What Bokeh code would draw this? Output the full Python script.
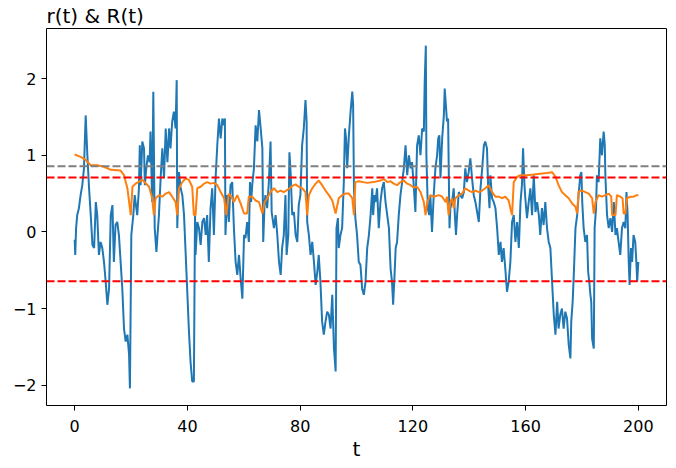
from bokeh.plotting import figure
from bokeh.models import Range1d, FixedTicker, Span
from bokeh.embed import file_html
from bokeh.resources import INLINE

# r(t): (t, value) pairs, segment by segment
r_seg1 = [(0.0, -0.10), (0.2, -0.30), (0.5, 0.05), (0.9, 0.22), (1.5, 0.31), (2.1, 0.48),
          (2.7, 0.61), (3.3, 0.83), (3.9, 1.52), (4.5, 1.00), (5.1, 0.57), (5.7, 0.22),
          (6.3, -0.17), (6.9, -0.21), (7.5, 0.39), (8.0, 0.22), (8.6, -0.30), (9.2, -0.13),
          (9.8, -0.21), (10.4, -0.39), (11.0, -0.65), (11.6, -0.95), (12.2, -0.74), (12.8, 0.22),
          (13.4, 0.35), (13.9, -0.39), (14.5, 0.09), (15.1, 0.13), (15.7, -0.04), (16.3, -0.39),
          (16.9, -0.74), (17.5, -1.26), (18.1, -1.43), (18.7, -1.34), (19.3, -1.60), (19.6, -2.04),
          (20.1, -0.04), (20.8, 0.22), (21.3, 0.48)]
r_seg2 = [(21.6, 0.39), (22.2, 0.22), (22.8, 0.57), (23.1, 1.13), (23.4, 0.61), (24.0, 1.18),
          (24.6, 1.09), (24.9, 0.61), (25.4, 0.83), (26.0, 1.00), (26.6, 0.91), (26.9, 1.31),
          (27.5, 0.39), (27.9, 1.83), (28.4, 0.05), (29.0, -0.26), (29.4, -0.04), (29.9, 0.22),
          (30.5, 0.70), (31.1, 1.09), (31.7, 0.70), (32.3, 1.35), (32.9, 0.91), (33.5, 1.35),
          (34.0, 1.09), (34.6, 1.44), (35.2, 1.57), (35.8, 1.35), (36.2, 1.98), (36.4, 0.05),
          (37.0, 0.78), (37.6, 0.57), (38.2, 0.48), (38.8, 0.22), (39.4, -0.30), (40.0, -0.82),
          (40.5, -1.26), (41.1, -1.69), (41.7, -1.95), (42.3, -1.95), (42.7, 0.22), (42.9, -0.30),
          (43.5, 0.13), (44.1, 0.05), (44.7, -0.17), (45.3, 0.13), (45.9, 0.18), (46.5, -0.04),
          (47.0, 0.22), (47.6, -0.39)]
r_seg3 = [(48.2, 0.30), (48.8, 0.57), (49.4, -0.04), (50.0, 0.70), (50.6, 1.13), (51.2, 1.48),
          (51.8, 1.22), (52.4, 1.48), (53.0, 1.39), (53.3, 1.48), (53.5, -0.04), (54.1, 0.48),
          (54.7, 0.13), (55.3, 0.61), (55.9, 0.65), (56.5, 0.05), (57.1, -0.39), (57.7, -0.56),
          (58.3, -0.30), (58.9, -0.61), (59.5, -0.87), (60.1, -0.04), (60.6, -0.08), (61.2, 0.13),
          (61.8, -0.13), (62.2, 0.65), (62.6, 0.39), (63.0, 0.61), (63.6, 0.83), (64.2, 1.39),
          (64.8, 1.18), (65.4, 1.59), (66.0, 1.35), (66.6, 1.09), (66.9, -0.13), (67.4, 0.39),
          (67.7, 0.48), (68.3, 0.31), (68.9, 0.65), (69.5, 1.18), (69.9, 0.26), (70.7, 0.05),
          (71.3, 0.22), (71.9, -0.04), (72.5, -0.39), (73.1, -0.56), (73.6, -0.21), (74.2, -0.04)]
r_seg4 = [(74.8, 0.48), (75.2, -0.30), (75.8, -0.04), (76.2, 1.04), (76.6, 0.78), (77.2, 0.22),
          (77.8, 0.26), (78.4, -0.04), (79.0, -0.13), (79.5, 0.35), (80.1, 0.48), (80.7, 1.13),
          (81.3, 1.35), (81.9, 1.72), (82.3, 1.44), (82.5, 0.13), (83.1, -0.04), (83.7, -0.30),
          (84.3, -0.13), (84.9, -0.39), (85.5, -0.69), (86.1, -0.52), (86.6, -0.30), (87.2, -0.65),
          (87.8, -1.17), (88.4, -1.34), (89.0, -1.17), (89.6, -1.04), (90.2, -1.08), (90.8, -1.26),
          (91.4, -0.82), (92.0, -1.52), (92.6, -1.82), (92.9, 0.05), (93.4, 0.18), (93.7, -0.21),
          (94.3, -0.04), (94.9, 0.05), (95.5, 0.65), (95.9, 1.35), (96.3, 1.22), (96.7, 0.83),
          (97.3, 1.26), (97.9, 1.57), (98.5, 1.83), (98.8, 1.66), (99.1, 0.57), (99.6, 0.18),
          (100.2, -0.04), (100.8, -0.39)]
r_seg5 = [(101.4, -0.43), (102.0, -0.74), (102.6, -0.82), (103.2, -0.65), (103.8, -0.21),
          (104.4, -0.04), (105.0, 0.22), (105.6, 0.57), (105.9, 0.22), (106.4, 0.48), (106.7, 0.39),
          (107.3, 0.57), (107.9, 0.05), (108.5, 0.39), (109.1, 0.57), (109.7, 0.65), (110.3, 0.39),
          (110.9, 0.22), (111.5, 0.05), (112.1, -0.48), (112.6, -0.65), (113.0, -0.95), (113.5, -0.56),
          (113.9, -0.21), (114.4, -0.13), (115.0, 0.22), (115.6, 0.48), (116.2, 0.65), (116.8, 0.83),
          (117.4, 1.13), (118.0, 0.74), (118.6, 1.00), (119.2, 0.83), (119.7, 0.91), (120.3, 0.61),
          (120.9, 0.26), (121.5, 1.13), (122.1, 1.26), (122.7, 1.00), (123.3, 1.35), (123.9, 1.31),
          (124.2, 1.96), (124.6, 2.43), (124.8, 1.00), (125.3, 0.31), (125.8, 0.22), (126.2, 0.48),
          (126.8, 0.00), (127.4, 0.48)]
r_seg6 = [(128.0, 0.83), (128.6, 1.00), (129.0, 1.22), (129.4, 1.26), (129.8, 0.70), (130.4, 1.22),
          (131.0, 1.52), (131.3, 1.87), (131.8, 1.61), (132.1, 1.44), (132.5, 1.48), (133.0, 0.05),
          (133.3, 0.31), (133.9, 0.39), (134.5, 0.57), (134.9, 0.22), (135.3, -0.04), (135.7, 0.22),
          (136.3, 0.52), (136.9, 0.48), (137.5, 0.44), (138.1, 0.52), (138.6, 0.83), (139.2, 0.65),
          (139.8, 0.78), (140.4, 0.96), (141.0, 0.70), (141.6, 0.48), (142.2, 0.39), (142.8, 0.26),
          (143.4, 0.13), (144.0, 0.57), (144.6, 0.83), (145.2, 1.13), (145.7, 1.18), (146.3, 1.09),
          (146.7, 0.61), (147.2, 0.31), (147.5, 0.74), (148.1, 0.44), (148.7, 0.39), (149.3, 0.31),
          (149.9, 0.05), (150.5, -0.30), (151.1, -0.13), (151.6, -0.39), (152.2, -0.21), (152.8, -0.48),
          (153.4, -0.78), (154.0, -0.65)]
r_seg7 = [(154.6, -0.39), (155.2, 0.13), (155.8, 0.22), (156.4, -0.13), (157.0, 0.13), (157.6, -0.21),
          (158.2, 0.39), (158.7, 0.61), (159.1, 1.09), (159.6, 0.61), (159.9, 0.44), (160.5, 0.18),
          (161.1, 0.39), (161.7, 0.57), (162.3, 0.22), (162.9, 0.74), (163.5, 0.26), (164.1, 0.39),
          (164.7, 0.22), (165.2, -0.04), (165.8, 0.31), (166.4, 0.09), (167.0, 0.39), (167.6, 0.05),
          (168.2, -0.13), (168.8, -0.21), (169.4, -0.65), (170.0, -1.08), (170.6, -1.34), (171.2, -0.91),
          (171.7, -1.26), (172.3, -1.08), (172.9, -1.00), (173.5, -1.26), (174.1, -1.04), (174.7, -1.13),
          (175.3, -1.47), (175.9, -1.65), (176.2, -1.17), (176.7, -0.91), (177.1, -0.56), (177.7, 0.05),
          (178.3, 0.22), (178.8, 0.48), (179.4, 0.74), (179.8, 0.78), (180.1, 0.39), (180.6, 0.05)]
r_seg8 = [(181.2, -0.13), (181.8, -0.04), (182.2, -0.52), (182.6, -0.65), (183.0, -0.82), (183.3, -0.91),
          (183.6, -1.39), (184.2, -1.52), (184.5, 0.05), (185.0, 0.31), (185.3, 0.74), (185.9, 0.65),
          (186.5, 1.22), (187.1, 1.00), (187.7, 1.31), (188.1, 1.13), (188.3, 0.74), (188.9, 0.22),
          (189.5, 0.05), (190.1, 0.18), (190.7, 0.00), (191.3, 0.39), (191.9, -0.04), (192.4, 0.05),
          (193.0, -0.13), (193.6, -0.30), (194.2, 0.05), (194.8, 0.13), (195.4, 0.05), (195.8, 0.52),
          (196.2, 0.22), (196.6, -0.39), (196.9, -0.69), (197.4, -0.21), (197.8, -0.39), (198.3, -0.04),
          (198.9, -0.13), (199.3, -0.39), (199.6, -0.65), (200.0, -0.39)]

# R(t): (t, value) pairs
R_seg1 = [(0.0, 1.01), (2.1, 0.98), (3.9, 0.94), (5.7, 0.87), (8.0, 0.87), (10.4, 0.85), (12.8, 0.81),
          (16.3, 0.80), (17.5, 0.74), (18.7, 0.57), (19.9, 0.22), (20.5, 0.59), (21.6, 0.63),
          (24.0, 0.68), (26.4, 0.59), (27.5, 0.44), (28.1, 0.22), (28.7, 0.44), (29.9, 0.48),
          (31.1, 0.46), (32.3, 0.50), (33.5, 0.52), (34.6, 0.46), (35.8, 0.39), (36.4, 0.22),
          (37.0, 0.57), (38.2, 0.65), (39.4, 0.70), (40.5, 0.68), (41.7, 0.59), (42.3, 0.22),
          (42.9, 0.22), (43.5, 0.57), (44.7, 0.59), (45.9, 0.63), (47.0, 0.65)]
R_seg2 = [(48.2, 0.63), (49.4, 0.64), (50.6, 0.61), (51.8, 0.52), (53.0, 0.44), (53.8, 0.22),
          (54.7, 0.50), (55.6, 0.46), (56.5, 0.39), (57.7, 0.48), (58.9, 0.37), (60.1, 0.24),
          (61.2, 0.24), (61.8, 0.46), (63.0, 0.46), (64.2, 0.41), (65.4, 0.39), (66.6, 0.24),
          (67.4, 0.39), (68.3, 0.44), (69.5, 0.52), (70.7, 0.57), (71.9, 0.52), (73.1, 0.54),
          (74.2, 0.52), (76.0, 0.56), (77.2, 0.60), (78.4, 0.62), (79.5, 0.59), (80.7, 0.57),
          (81.9, 0.52), (82.5, 0.22), (83.1, 0.48), (84.3, 0.57), (85.5, 0.63), (86.6, 0.67),
          (87.8, 0.61), (89.0, 0.54), (90.2, 0.48), (91.4, 0.41), (92.6, 0.24), (93.7, 0.44),
          (94.9, 0.48), (96.1, 0.50), (97.3, 0.50), (98.5, 0.44), (99.1, 0.22), (99.6, 0.65)]
R_seg3 = [(100.8, 0.66), (103.8, 0.64), (106.1, 0.65), (108.5, 0.67), (109.7, 0.69), (110.9, 0.65),
          (112.1, 0.66), (113.2, 0.63), (114.4, 0.61), (115.6, 0.65), (116.8, 0.67), (118.0, 0.63),
          (119.2, 0.61), (120.3, 0.58), (121.5, 0.59), (122.7, 0.52), (123.9, 0.39), (124.5, 0.22),
          (125.1, 0.39), (126.2, 0.48), (127.4, 0.46), (129.2, 0.48), (130.4, 0.46), (131.6, 0.39),
          (132.1, 0.46), (132.7, 0.22), (133.3, 0.39), (133.9, 0.44), (134.5, 0.31), (135.1, 0.44),
          (136.3, 0.48), (137.5, 0.50), (138.6, 0.57), (139.8, 0.54), (141.0, 0.52), (142.2, 0.54),
          (143.4, 0.52), (144.6, 0.54), (145.7, 0.57), (146.9, 0.61), (148.1, 0.52), (149.3, 0.46),
          (150.5, 0.46), (151.6, 0.44), (152.8, 0.46), (154.0, 0.41)]
R_seg4 = [(154.6, 0.31), (155.2, 0.22), (155.8, 0.65), (157.0, 0.72), (158.2, 0.74), (160.5, 0.74),
          (162.9, 0.75), (165.2, 0.76), (167.6, 0.77), (169.4, 0.78), (170.6, 0.72), (171.7, 0.61),
          (172.9, 0.52), (174.1, 0.48), (175.3, 0.44), (176.5, 0.37), (177.7, 0.33), (178.3, 0.24),
          (178.8, 0.52), (179.4, 0.54), (180.6, 0.53), (182.4, 0.50), (183.6, 0.44), (184.2, 0.24),
          (184.8, 0.39), (185.9, 0.48), (187.1, 0.46), (188.3, 0.48), (189.5, 0.50), (190.4, 0.46),
          (190.7, 0.22), (191.9, 0.22), (192.4, 0.48), (193.6, 0.46), (194.4, 0.44), (194.8, 0.24),
          (195.4, 0.24), (196.0, 0.44), (197.2, 0.46), (198.3, 0.46), (199.5, 0.48), (200.0, 0.48)]

# horizontal reference levels
grey_level = 0.857
red_levels = [0.709, -0.643]

x_ticks = [0, 40, 80, 120, 160, 200]
y_ticks = [-2, -1, 0, 1, 2]
y_tick_labels = {-2: "\u22122", -1: "\u22121", 0: "0", 1: "1", 2: "2"}

r_pts = r_seg1 + r_seg2 + r_seg3 + r_seg4 + r_seg5 + r_seg6 + r_seg7 + r_seg8
R_pts = R_seg1 + R_seg2 + R_seg3 + R_seg4
t_r = [a for a, b in r_pts]
r_vals = [b for a, b in r_pts]
t_R = [a for a, b in R_pts]
R_vals = [b for a, b in R_pts]

lo = min(r_vals + R_vals)
hi = max(r_vals + R_vals)
pad = 0.05 * (hi - lo)
xlo, xhi = min(t_r), max(t_r)
xpad = 0.05 * (xhi - xlo)

FONT = "DejaVu Sans"

p = figure(width=676, height=468, output_backend="svg", toolbar_location=None,
           x_range=Range1d(xlo - xpad, xhi + xpad), y_range=Range1d(lo - pad, hi + pad),
           min_border_left=46, min_border_right=10, min_border_top=0, min_border_bottom=63,
           background_fill_color="white", border_fill_color="white")

p.title.text = "r(t) & R(t)"
p.title.align = "left"
p.title.text_font = FONT
p.title.text_font_size = "20px"
p.title.text_font_style = "normal"
p.title.text_color = "black"
p.title.standoff = 2

p.line(t_r, r_vals, line_color="#1f77b4", line_width=2)
p.line(t_R, R_vals, line_color="#ff7f0e", line_width=2)

p.add_layout(Span(location=grey_level, dimension="width", line_color="grey",
                  line_dash="8 3", line_width=2))
for lv in red_levels:
    p.add_layout(Span(location=lv, dimension="width", line_color="red",
                      line_dash="8 3", line_width=2))

p.xgrid.visible = False
p.ygrid.visible = False
p.outline_line_color = "black"
p.outline_line_width = 1
p.outline_line_alpha = 1

p.xaxis.ticker = FixedTicker(ticks=x_ticks)
p.yaxis.ticker = FixedTicker(ticks=y_ticks)
p.yaxis.major_label_overrides = y_tick_labels
p.xaxis.axis_label = "t"
for ax in (p.xaxis, p.yaxis):
    ax.axis_line_color = None
    ax.major_tick_line_color = "black"
    ax.major_tick_out = 5
    ax.major_tick_in = 0
    ax.minor_tick_line_color = None
    ax.major_label_text_font = FONT
    ax.major_label_text_font_size = "16px"
    ax.major_label_text_color = "black"
    ax.axis_label_text_font = FONT
    ax.axis_label_text_font_size = "20px"
    ax.axis_label_text_font_style = "normal"
    ax.axis_label_text_color = "black"
p.xaxis.major_label_standoff = 9
p.xaxis.axis_label_standoff = 2
p.yaxis.major_label_standoff = 5

open("out.html", "w").write(file_html(p, INLINE))
